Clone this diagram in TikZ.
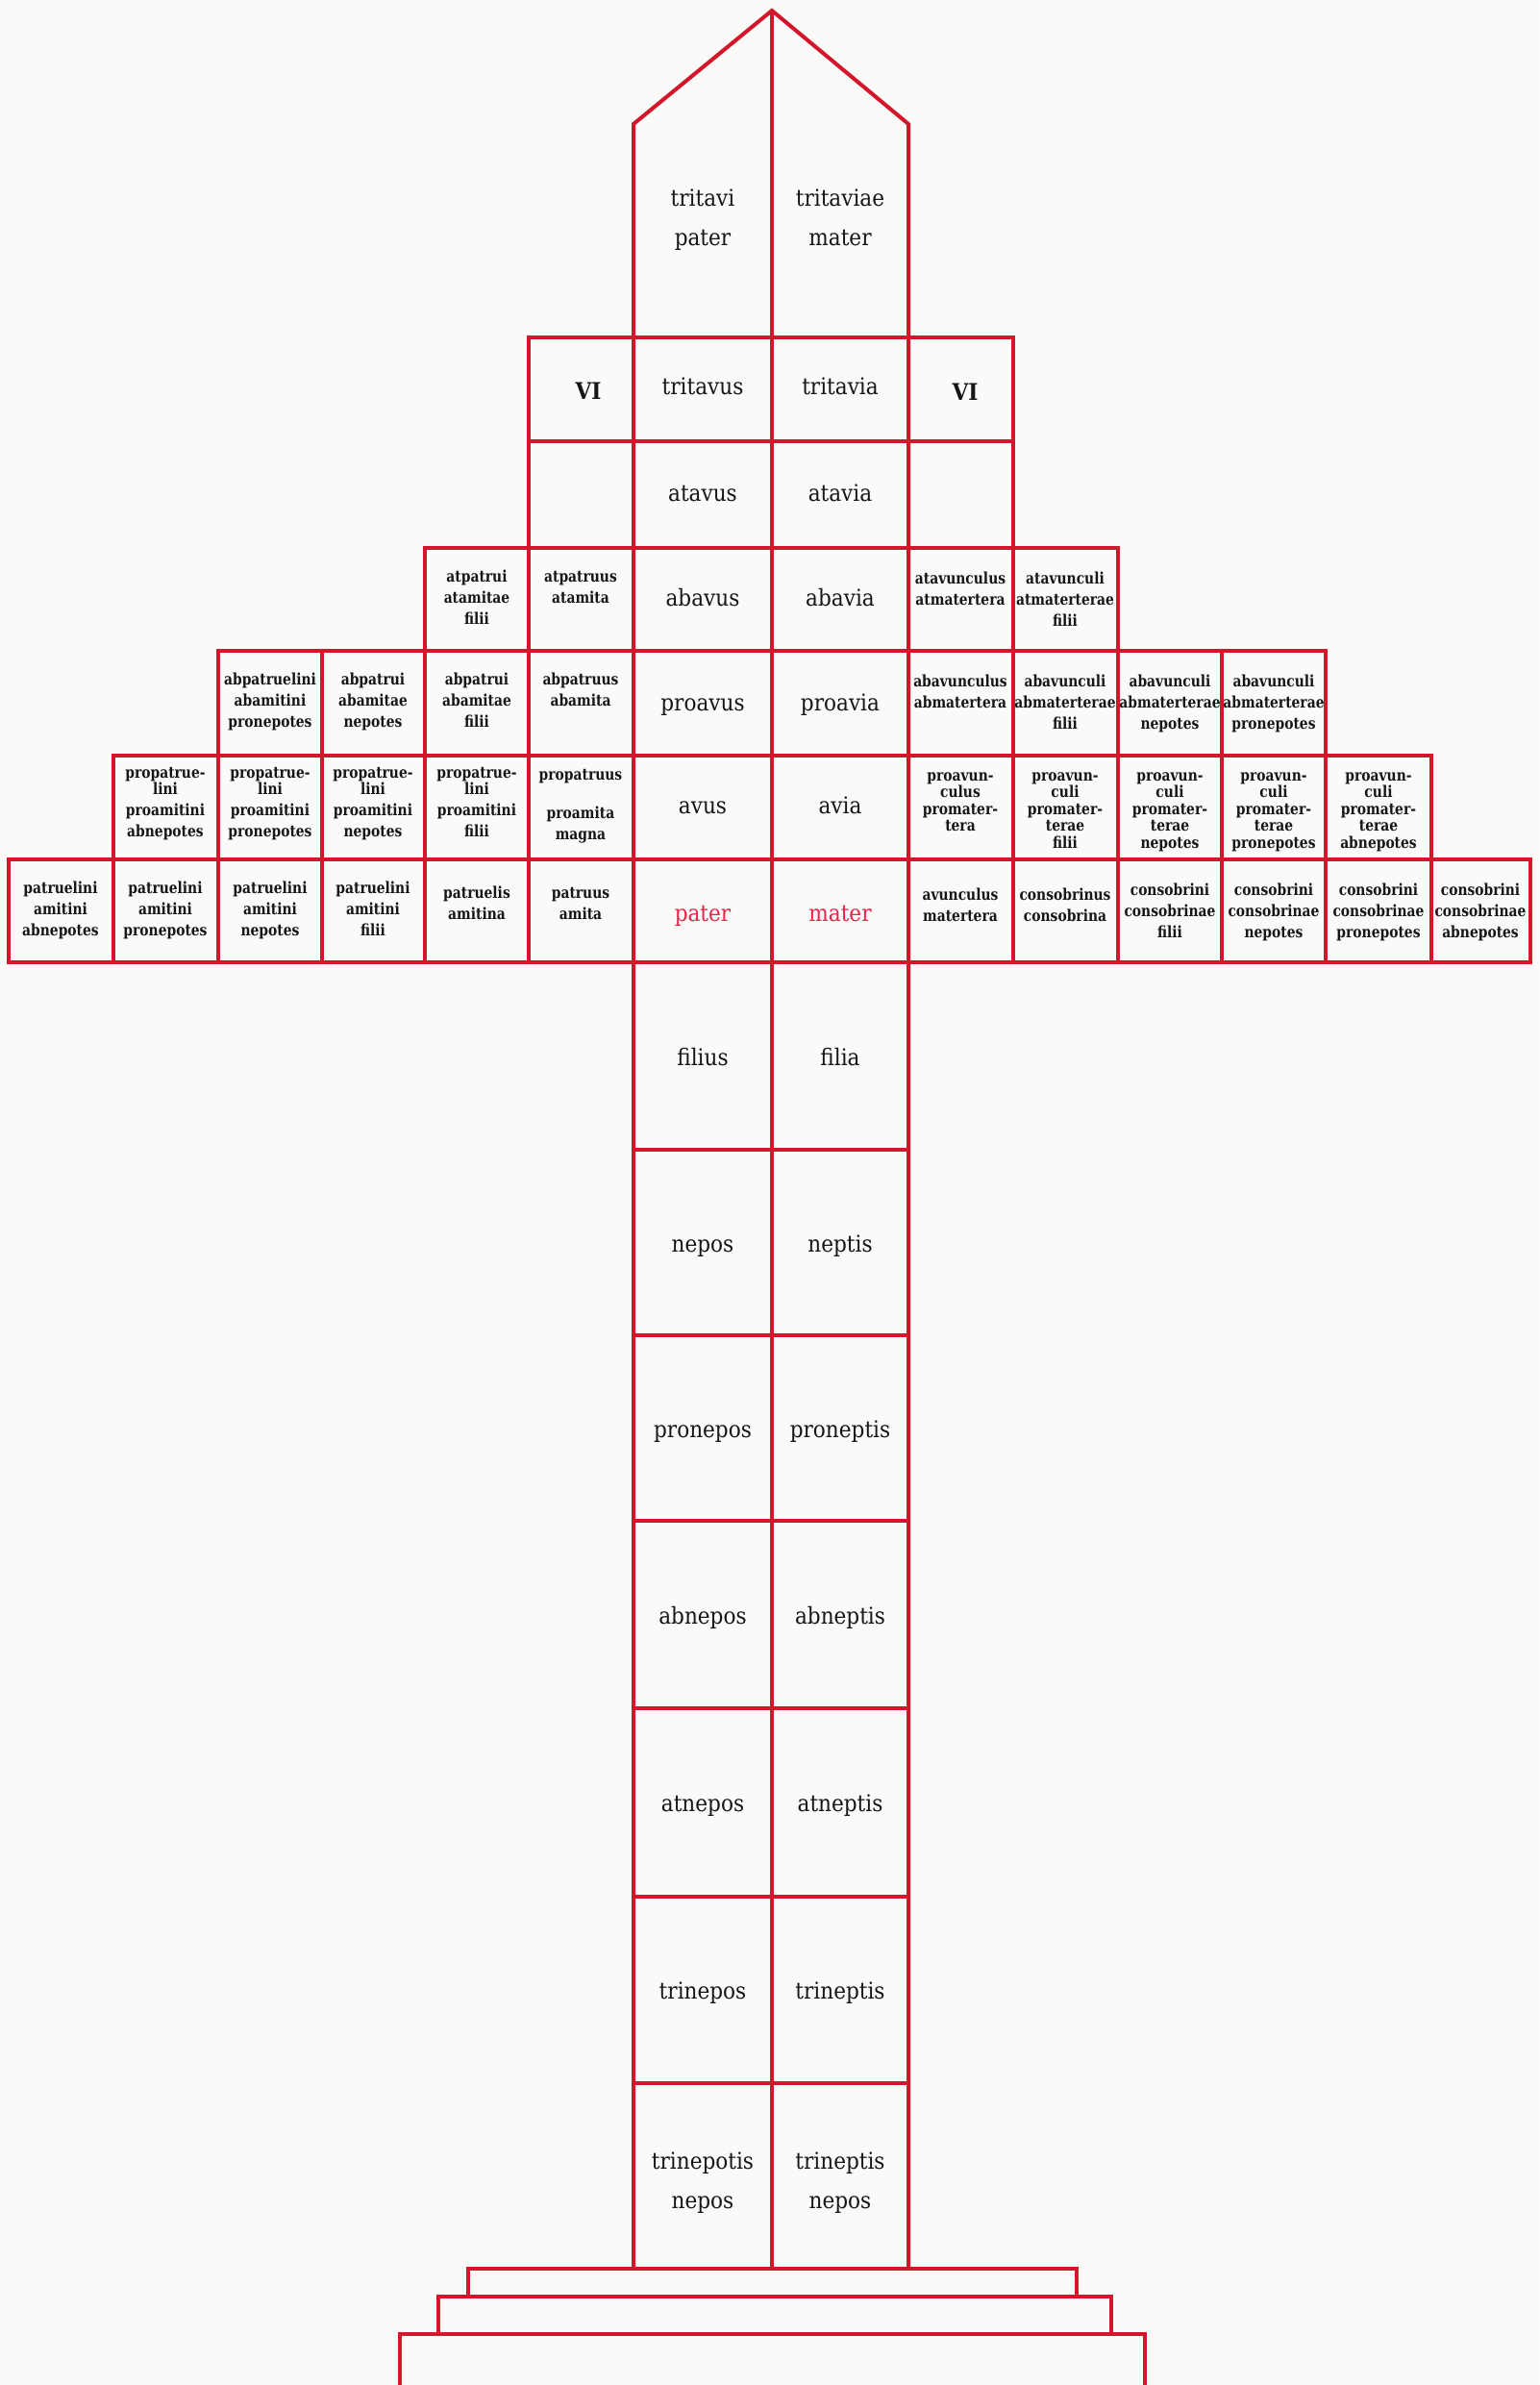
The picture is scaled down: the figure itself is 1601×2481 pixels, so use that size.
\documentclass[tikz,border=0pt]{standalone}
\usepackage{fontspec}
\newfontfamily\sidefont{DejaVu Serif}[FakeStretch=0.84]
\newfontfamily\trunkfont{DejaVu Serif}[FakeStretch=0.9]
\definecolor{rl}{RGB}{212,22,44}
\definecolor{rt}{RGB}{232,36,72}
\definecolor{ink}{RGB}{22,22,22}
\definecolor{paper}{RGB}{250,250,248}
\newcommand\fl{\rule{0pt}{12pt}}
\newcommand\tl{\rule{0pt}{18pt}}
\begin{document}
\begin{tikzpicture}[x=1pt,y=-1pt,
  grid/.style={draw=rl,line width=4pt,line join=miter},
  side/.style={anchor=north,inner sep=0pt,align=center,text=ink,
    font=\sidefont\bfseries\fontsize{16.5}{22}\selectfont},
  sideh/.style={side,font=\sidefont\bfseries\fontsize{16.5}{17.5}\selectfont},
  trunk/.style={anchor=base,inner sep=0pt,text=ink,font=\trunkfont\fontsize{24}{41}\selectfont},
  trunk2/.style={anchor=north,inner sep=0pt,align=center,text=ink,font=\trunkfont\fontsize{24}{41}\selectfont},
  red/.style={trunk,text=rt},
  vi/.style={trunk,font=\trunkfont\bfseries\fontsize{24}{28}\selectfont}]
\fill[paper] (0,0) rectangle (1601,2481);
\useasboundingbox (0,0) rectangle (1601,2481);

% trunk outline and roof
\coordinate (apex) at (803,11);
\coordinate (roofL) at (659,129);
\coordinate (roofR) at (945,129);
\coordinate (footL) at (659,2360);
\coordinate (footM) at (803,2360);
\coordinate (footR) at (945,2360);
\draw[grid] (footL) -- (roofL) -- (apex) -- (roofR) -- (footR);
\draw[grid] (apex) -- (footM);
\foreach \y in {351,459,570,677,786,894,1001,1196,1389,1582,1777,1973,2167}
  \draw[grid] (659,\y) -- (945,\y);

% left side cells
\foreach \xa/\xb/\ya/\yb in {550/659/351/459, 550/659/459/570,
  442/550/570/677, 550/659/570/677,
  227/335/677/786, 335/442/677/786, 442/550/677/786, 550/659/677/786,
  118/227/786/894, 227/335/786/894, 335/442/786/894, 442/550/786/894, 550/659/786/894,
  9/118/894/1001, 118/227/894/1001, 227/335/894/1001, 335/442/894/1001, 442/550/894/1001, 550/659/894/1001}
  \draw[grid] (\xa,\ya) rectangle (\xb,\yb);
% right side cells
\foreach \xa/\xb/\ya/\yb in {945/1054/351/459, 945/1054/459/570,
  945/1054/570/677, 1054/1163/570/677,
  945/1054/677/786, 1054/1163/677/786, 1163/1271/677/786, 1271/1379/677/786,
  945/1054/786/894, 1054/1163/786/894, 1163/1271/786/894, 1271/1379/786/894, 1379/1489/786/894,
  945/1054/894/1001, 1054/1163/894/1001, 1163/1271/894/1001, 1271/1379/894/1001, 1379/1489/894/1001, 1489/1592/894/1001}
  \draw[grid] (\xa,\ya) rectangle (\xb,\yb);

% base steps
\draw[grid] (487,2360) rectangle (1120,2389);
\draw[grid] (456,2389) rectangle (1156,2428);
\draw[grid] (416,2481) -- (416,2428) -- (1191,2428) -- (1191,2481);

% trunk texts
\node[trunk2] (tritavi) at (731,196) {\tl tritavi\\pater};
\node[trunk2] (tritaviae) at (874,196) {\tl tritaviae\\mater};
\node[trunk] (tritavus) at (731,410) {tritavus};
\node[trunk] (tritavia) at (874,410) {tritavia};
\node[trunk] (atavus) at (731,521) {atavus};
\node[trunk] (atavia) at (874,521) {atavia};
\node[trunk] (abavus) at (731,630) {abavus};
\node[trunk] (abavia) at (874,630) {abavia};
\node[trunk] (proavus) at (731,739) {proavus};
\node[trunk] (proavia) at (874,739) {proavia};
\node[trunk] (avus) at (731,846) {avus};
\node[trunk] (avia) at (874,846) {avia};
\node[red] (pater) at (731,958) {pater};
\node[red] (mater) at (874,958) {mater};
\node[trunk] (filius) at (731,1108) {filius};
\node[trunk] (filia) at (874,1108) {filia};
\node[trunk] (nepos) at (731,1302) {nepos};
\node[trunk] (neptis) at (874,1302) {neptis};
\node[trunk] (pronepos) at (731,1495) {pronepos};
\node[trunk] (proneptis) at (874,1495) {proneptis};
\node[trunk] (abnepos) at (731,1689) {abnepos};
\node[trunk] (abneptis) at (874,1689) {abneptis};
\node[trunk] (atnepos) at (731,1884) {atnepos};
\node[trunk] (atneptis) at (874,1884) {atneptis};
\node[trunk] (trinepos) at (731,2079) {trinepos};
\node[trunk] (trineptis) at (874,2079) {trineptis};
\node[trunk2] (trinepotis) at (731,2238) {\tl trinepotis\\nepos};
\node[trunk2] (trineptisn) at (874,2238) {\tl trineptis\\nepos};

% VI
\node[vi] (viL) at (612,415) {VI};
\node[vi] (viR) at (1004,416) {VI};

% left side texts
\node[side] (l24) at (496,593) {\fl atpatrui\\atamitae\\filii};
\node[side] (l25) at (604,593) {\fl atpatruus\\atamita};
\node[side] (l32) at (281,700) {\fl abpatruelini\\abamitini\\pronepotes};
\node[side] (l33) at (388,700) {\fl abpatrui\\abamitae\\nepotes};
\node[side] (l34) at (496,700) {\fl abpatrui\\abamitae\\filii};
\node[side] (l35) at (604,700) {\fl abpatruus\\abamita};
\node[side] (l41) at (172,797) {\fl propatrue-\\[-5pt]lini\\proamitini\\abnepotes};
\node[side] (l42) at (281,797) {\fl propatrue-\\[-5pt]lini\\proamitini\\pronepotes};
\node[side] (l43) at (388,797) {\fl propatrue-\\[-5pt]lini\\proamitini\\nepotes};
\node[side] (l44) at (496,797) {\fl propatrue-\\[-5pt]lini\\proamitini\\filii};
\node[side] (l45) at (604,799) {\fl propatruus\\[18pt]proamita\\magna};
\node[side] (l50) at (63,917) {\fl patruelini\\amitini\\abnepotes};
\node[side] (l51) at (172,917) {\fl patruelini\\amitini\\pronepotes};
\node[side] (l52) at (281,917) {\fl patruelini\\amitini\\nepotes};
\node[side] (l53) at (388,917) {\fl patruelini\\amitini\\filii};
\node[side] (l54) at (496,922) {\fl patruelis\\amitina};
\node[side] (l55) at (604,922) {\fl patruus\\amita};

% right side texts
\node[side] (r28) at (999,595) {\fl atavunculus\\atmatertera};
\node[side] (r29) at (1108,595) {\fl atavunculi\\atmaterterae\\filii};
\node[side] (r38) at (999,702) {\fl abavunculus\\abmatertera};
\node[side] (r39) at (1108,702) {\fl abavunculi\\abmaterterae\\filii};
\node[side] (r310) at (1217,702) {\fl abavunculi\\abmaterterae\\nepotes};
\node[side] (r311) at (1325,702) {\fl abavunculi\\abmaterterae\\pronepotes};
\node[sideh] (r48) at (999,800) {\fl proavun-\\culus\\promater-\\tera};
\node[sideh] (r49) at (1108,800) {\fl proavun-\\culi\\promater-\\terae\\filii};
\node[sideh] (r410) at (1217,800) {\fl proavun-\\culi\\promater-\\terae\\nepotes};
\node[sideh] (r411) at (1325,800) {\fl proavun-\\culi\\promater-\\terae\\pronepotes};
\node[sideh] (r412) at (1434,800) {\fl proavun-\\culi\\promater-\\terae\\abnepotes};
\node[side] (r58) at (999,924) {\fl avunculus\\matertera};
\node[side] (r59) at (1108,924) {\fl consobrinus\\consobrina};
\node[side] (r510) at (1217,919) {\fl consobrini\\consobrinae\\filii};
\node[side] (r511) at (1325,919) {\fl consobrini\\consobrinae\\nepotes};
\node[side] (r512) at (1434,919) {\fl consobrini\\consobrinae\\pronepotes};
\node[side] (r513) at (1540,919) {\fl consobrini\\consobrinae\\abnepotes};
\end{tikzpicture}
\end{document}
